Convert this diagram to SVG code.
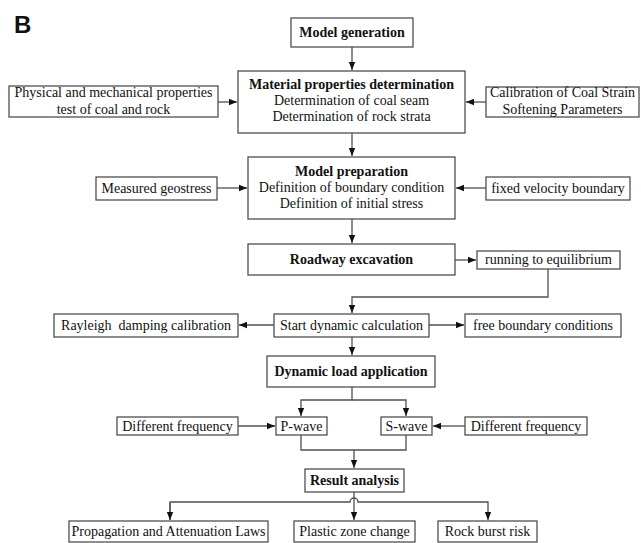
<svg xmlns="http://www.w3.org/2000/svg" width="641" height="543" viewBox="0 0 641 543">
<style>
.box{fill:#fff;stroke:#505050;stroke-width:1.3}
.t{font-family:"Liberation Serif","Times New Roman",serif;font-size:14px;fill:#111;text-anchor:middle}
.b{font-weight:bold}
.c{fill:none;stroke:#505050;stroke-width:1.3}
</style>
<defs>
<marker id="a" markerUnits="userSpaceOnUse" markerWidth="9" markerHeight="8" refX="8" refY="4" orient="auto">
<path d="M0,0.8 L8,4 L0,7.2 Z" fill="#111"/>
</marker>
</defs>
<rect width="641" height="543" fill="#fff"/>
<text x="14" y="33" font-family="Liberation Sans,Arial,sans-serif" font-weight="bold" font-size="24" fill="#111">B</text>

<g id="connectors">
<path class="c" d="M352,47 V70" marker-end="url(#a)"/>
<path class="c" d="M218,102 H237" marker-end="url(#a)"/>
<path class="c" d="M486,102 H466" marker-end="url(#a)"/>
<path class="c" d="M352,133 V156" marker-end="url(#a)"/>
<path class="c" d="M217,188 H247" marker-end="url(#a)"/>
<path class="c" d="M486,188 H456" marker-end="url(#a)"/>
<path class="c" d="M352,219 V243" marker-end="url(#a)"/>
<path class="c" d="M455,260 H476" marker-end="url(#a)"/>
<path class="c" d="M548,269 V297 H352 V313" marker-end="url(#a)"/>
<path class="c" d="M274,325 H239" marker-end="url(#a)"/>
<path class="c" d="M429,325 H464" marker-end="url(#a)"/>
<path class="c" d="M352,337 V355" marker-end="url(#a)"/>
<path class="c" d="M352,387 V400 H301 V416" marker-end="url(#a)"/>
<path class="c" d="M352,400 H406 V416" marker-end="url(#a)"/>
<path class="c" d="M238,426 H275" marker-end="url(#a)"/>
<path class="c" d="M465,426 H433" marker-end="url(#a)"/>
<path class="c" d="M301,435 V450 H406 V435"/>
<path class="c" d="M354,450 V468" marker-end="url(#a)"/>
<path class="c" d="M354,492 V520" marker-end="url(#a)"/>
<path class="c" d="M170,520 V502 H350 A4,4 0 0 1 358,502 H488 V520" marker-end="url(#a)"/>
<path class="c" d="M170,503 V520" marker-end="url(#a)"/>
</g>

<g id="model-generation">
<rect class="box" x="291" y="18" width="122" height="29"/>
<text class="t b" x="352" y="37">Model generation</text>
</g>
<g id="material-properties">
<rect class="box" x="238" y="71" width="227" height="62"/>
<text class="t b" x="351.5" y="89">Material properties determination</text>
<text class="t" x="351.5" y="105">Determination of coal seam</text>
<text class="t" x="351.5" y="121">Determination of rock strata</text>
</g>
<g id="physical-test">
<rect class="box" x="9" y="86" width="209" height="31"/>
<text class="t" x="113.5" y="97">Physical and mechanical properties</text>
<text class="t" x="113.5" y="114">test of coal and rock</text>
</g>
<g id="calibration">
<rect class="box" x="486" y="87" width="153" height="30"/>
<text class="t" x="562.5" y="97">Calibration of Coal Strain</text>
<text class="t" x="562.5" y="114">Softening Parameters</text>
</g>
<g id="model-preparation">
<rect class="box" x="248" y="157" width="207" height="62"/>
<text class="t b" x="351.5" y="176">Model preparation</text>
<text class="t" x="351.5" y="192">Definition of boundary condition</text>
<text class="t" x="351.5" y="208">Definition of initial stress</text>
</g>
<g id="measured-geostress">
<rect class="box" x="96" y="177" width="121" height="23"/>
<text class="t" x="156.5" y="193">Measured geostress</text>
</g>
<g id="fixed-velocity">
<rect class="box" x="486" y="177" width="144" height="23"/>
<text class="t" x="558" y="193">fixed velocity boundary</text>
</g>
<g id="roadway-excavation">
<rect class="box" x="248" y="244" width="207" height="31"/>
<text class="t b" x="351.5" y="264">Roadway excavation</text>
</g>
<g id="running-equilibrium">
<rect class="box" x="477" y="251" width="143" height="18"/>
<text class="t" x="548.5" y="264">running to equilibrium</text>
</g>
<g id="start-dynamic">
<rect class="box" x="274" y="314" width="155" height="23"/>
<text class="t" x="351.5" y="330">Start dynamic calculation</text>
</g>
<g id="rayleigh">
<rect class="box" x="54" y="314" width="184" height="23"/>
<text class="t" x="146" y="330">Rayleigh&#160; damping calibration</text>
</g>
<g id="free-boundary">
<rect class="box" x="465" y="314" width="156" height="23"/>
<text class="t" x="543" y="330">free boundary conditions</text>
</g>
<g id="dynamic-load">
<rect class="box" x="267" y="356" width="168" height="31"/>
<text class="t b" x="351" y="376">Dynamic load application</text>
</g>
<g id="p-wave">
<rect class="box" x="276" y="417" width="51" height="18"/>
<text class="t" x="301.5" y="431">P-wave</text>
</g>
<g id="s-wave">
<rect class="box" x="381" y="417" width="51" height="18"/>
<text class="t" x="406.5" y="431">S-wave</text>
</g>
<g id="freq-left">
<rect class="box" x="117" y="417" width="121" height="18"/>
<text class="t" x="177.5" y="431">Different frequency</text>
</g>
<g id="freq-right">
<rect class="box" x="465" y="417" width="122" height="18"/>
<text class="t" x="526" y="431">Different frequency</text>
</g>
<g id="result-analysis">
<rect class="box" x="305" y="469" width="99" height="23"/>
<text class="t b" x="354.5" y="485">Result analysis</text>
</g>
<g id="propagation">
<rect class="box" x="69" y="521" width="199" height="21"/>
<text class="t" x="168.5" y="536">Propagation and Attenuation Laws</text>
</g>
<g id="plastic-zone">
<rect class="box" x="294" y="521" width="121" height="21"/>
<text class="t" x="354.5" y="536">Plastic zone change</text>
</g>
<g id="rock-burst">
<rect class="box" x="438" y="521" width="99" height="21"/>
<text class="t" x="487.5" y="536">Rock burst risk</text>
</g>
</svg>
